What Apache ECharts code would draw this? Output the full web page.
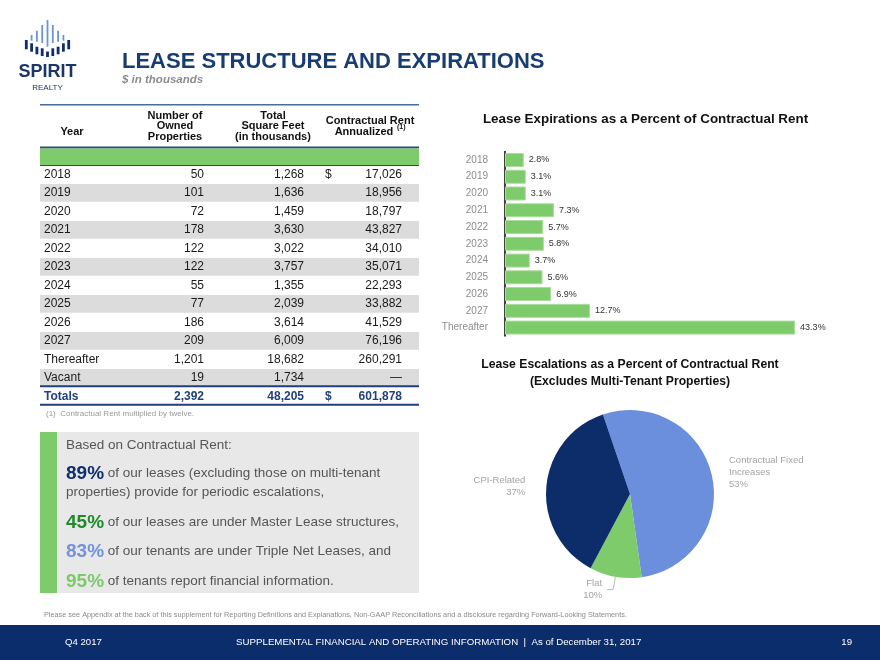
<!DOCTYPE html>
<html><head><meta charset="utf-8">
<script src="https://cdn.jsdelivr.net/npm/echarts/dist/echarts.min.js"></script>
<style>html,body{margin:0;padding:0;background:#fff}#c{width:880px;height:660px}</style>
</head><body><div id="c"></div>
<script>
// ---------------- DATA ----------------
const tableYears = ['2018','2019','2020','2021','2022','2023','2024','2025','2026','2027','Thereafter','Vacant'];
const ownedProperties = [50,101,72,178,122,122,55,77,186,209,1201,19];
const squareFeet = [1268,1636,1459,3630,3022,3757,1355,2039,3614,6009,18682,1734];
const contractualRent = [17026,18956,18797,43827,34010,35071,22293,33882,41529,76196,260291,null];
const totalsRow = ['Totals',2392,48205,601878];
const tableHeaders = [['Year'],['Number of','Owned','Properties'],['Total','Square Feet','(in thousands)'],['Contractual Rent','Annualized']];

const expirationCategories = ['2018','2019','2020','2021','2022','2023','2024','2025','2026','2027','Thereafter'];
const expirationPercent = [2.8,3.1,3.1,7.3,5.7,5.8,3.7,5.6,6.9,12.7,43.3];

const escalationNames = ['Contractual Fixed\nIncreases','Flat','CPI-Related'];
const escalationPercent = [53,10,37];

const highlightNumbers = ['89%','45%','83%','95%'];
const highlightTexts = [' of our leases (excluding those on multi-tenant',' of our leases are under Master Lease structures,',' of our tenants are under Triple Net Leases, and',' of tenants report financial information.'];

// ---------------- STYLE ----------------
const FF = '"Liberation Sans", Arial, sans-serif';
const NAVY = '#0f2d6b';
const GREEN = '#7dcb6a';
const fmt = v => v === null ? '—' : v.toLocaleString('en-US');

const g = [];
function T(x, y, text, o) {
  g.push({type:'text', x:x, y:y, silent:true,
    style:Object.assign({text:text, fill:'#1a1a1a', fontSize:12, fontFamily:FF, align:'left', verticalAlign:'middle'}, o || {})});
}
function R(x, y, w, h, fill) { g.push({type:'rect', silent:true, shape:{x:x,y:y,width:w,height:h}, style:{fill:fill}}); }
function L(x1, y1, x2, y2, stroke, lw) { g.push({type:'line', silent:true, shape:{x1:x1,y1:y1,x2:x2,y2:y2}, style:{stroke:stroke, lineWidth:lw}}); }

// ---- logo ----
const LC = 47.5, LS = 5.3;
const lightTop = [20, 25, 30.7, 35], lightBot = [46.7, 43, 41.7, 40.7];
for (let k = -3; k <= 3; k++) {
  const a = Math.abs(k);
  R(LC + k*LS - 0.9, lightTop[a], 1.8, lightBot[a] - lightTop[a], '#6d95d6');
}
const darkTop = [51.5, 48.3, 46.7, 43.3, 40], darkBot = [57, 56, 54.3, 51.7, 49.3];
for (let k = -4; k <= 4; k++) {
  const a = Math.abs(k);
  R(LC + k*LS - 1.4, darkTop[a], 2.8, darkBot[a] - darkTop[a], NAVY);
}
T(LC, 72.5, 'SPIRIT', {fontSize:18, fontWeight:'bold', fill:'#1a3668', align:'center'});
T(LC, 88, 'REALTY', {fontSize:8, fill:'#1a3668', align:'center'});

// ---- title ----
T(122, 61.5, 'LEASE STRUCTURE AND EXPIRATIONS', {fontSize:22, fontWeight:'bold', fill:'#173d73'});
T(122, 79.5, '$ in thousands', {fontSize:11.5, fontWeight:'bold', fontStyle:'italic', fill:'#8c8c8c'});

// ---- table ----
const TL = 40, TR = 419, ROW0 = 174.3, RH = 18.5;
const colX = [44, 204, 304, 402];
L(TL, 104.7, TR, 104.7, '#4b6b9b', 1.5);
const hdrCX = [72, 175, 273, 370];
const hdrY = {1:[115.5,126.3,137], 3:[120.7,131.7]};
T(hdrCX[0], 131.7, tableHeaders[0][0], {fontSize:11, fontWeight:'bold', fill:'#111', align:'center'});
[1,2].forEach(c => tableHeaders[c].forEach((s,j) => T(hdrCX[c], hdrY[1][j], s, {fontSize:11, fontWeight:'bold', fill:'#111', align:'center'})));
tableHeaders[3].forEach((s,j) => T(j === 1 ? 364 : hdrCX[3], hdrY[3][j], s, {fontSize:11, fontWeight:'bold', fill:'#111', align:'center'}));
T(397, 127.5, '(1)', {fontSize:7, fontWeight:'bold', fill:'#111'});
L(TL, 147.5, TR, 147.5, '#2b4a80', 2);
R(TL, 148.5, TR - TL, 16.5, GREEN);
L(TL, 165.5, TR, 165.5, '#2b4a80', 1);

tableYears.forEach((yr, i) => {
  const cy = ROW0 + i * RH;
  if (i % 2 === 1) R(TL, cy - 8.9, TR - TL, 17.8, '#dcdcdc');
  T(colX[0], cy, yr, {fontSize:12});
  T(colX[1], cy, fmt(ownedProperties[i]), {fontSize:12, align:'right'});
  T(colX[2], cy, fmt(squareFeet[i]), {fontSize:12, align:'right'});
  if (i === 0) T(325, cy, '$', {fontSize:12});
  T(colX[3], cy, fmt(contractualRent[i]), {fontSize:12, align:'right'});
});
const ty = ROW0 + tableYears.length * RH;
L(TL, ty - 10, TR, ty - 10, '#1f3f7f', 2);
L(TL, ty + 8.5, TR, ty + 8.5, '#1f3f7f', 2);
const tot = {fontSize:12, fontWeight:'bold', fill:'#1f3f7f'};
T(colX[0], ty, totalsRow[0], tot);
T(colX[1], ty, fmt(totalsRow[1]), Object.assign({align:'right'}, tot));
T(colX[2], ty, fmt(totalsRow[2]), Object.assign({align:'right'}, tot));
T(325, ty, '$', tot);
T(colX[3], ty, fmt(totalsRow[3]), Object.assign({align:'right'}, tot));
T(46, 414, '(1)  Contractual Rent multiplied by twelve.', {fontSize:8, fill:'#999'});

// ---- highlight box ----
R(40, 432, 379, 161, '#e8e8e8');
R(40, 432, 17, 161, GREEN);
T(66, 445, 'Based on Contractual Rent:', {fontSize:13.5, fill:'#555'});
const hlColors = ['#0f2f6e', '#1f8a2a', '#6f93dc', '#7cc96b'];
const hlY = [473.3, 522.7, 551.7, 581.7];
highlightNumbers.forEach((n, i) => {
  g.push({type:'text', x:66, y:hlY[i], silent:true, style:{
    text:'{n|' + n + '}{t|' + highlightTexts[i] + '}', verticalAlign:'middle', align:'left',
    rich:{n:{fontSize:19, fontWeight:'bold', fill:hlColors[i], fontFamily:FF},
          t:{fontSize:13.5, fill:'#555', fontFamily:FF}}}});
});
T(66, 492.7, 'properties) provide for periodic escalations,', {fontSize:13.5, fill:'#555'});

// ---- chart titles ----
T(645.5, 119, 'Lease Expirations as a Percent of Contractual Rent', {fontSize:13.4, fontWeight:'bold', fill:'#111', align:'center'});
T(630, 365, 'Lease Escalations as a Percent of Contractual Rent', {fontSize:12.2, fontWeight:'bold', fill:'#111', align:'center'});
T(630, 381.5, '(Excludes Multi-Tenant Properties)', {fontSize:12.2, fontWeight:'bold', fill:'#111', align:'center'});

// ---- footer ----
T(44, 615, 'Please see Appendix at the back of this supplement for Reporting Definitions and Explanations, Non-GAAP Reconciliations and a disclosure regarding Forward-Looking Statements.', {fontSize:7.3, fill:'#8a8a8a'});
R(0, 625, 880, 35, '#0c2d6b');
T(65, 642.7, 'Q4 2017', {fontSize:9.6, fill:'#fff'});
T(438.7, 642.3, 'SUPPLEMENTAL FINANCIAL AND OPERATING INFORMATION  |  As of December 31, 2017', {fontSize:9.7, fill:'#fff', align:'center'});
T(846.7, 642.7, '19', {fontSize:9.6, fill:'#fff', align:'center'});

// ---------------- CHART ----------------
const pieLines = [{show:false, length:8, length2:4.5}, {show:true, length:13, length2:6}, {show:false, length:10, length2:6}];
const chart = echarts.init(document.getElementById('c'), null, {renderer:'canvas'});
chart.setOption({
  animation:false,
  backgroundColor:'#fff',
  textStyle:{fontFamily:FF},
  grid:{left:505, top:151.6, width:335, height:184.4},
  xAxis:{type:'value', min:0, max:50, show:false},
  yAxis:{type:'category', data:expirationCategories, inverse:true,
    axisLine:{lineStyle:{color:'#000', width:1.5}},
    axisTick:{alignWithLabel:true, length:6, lineStyle:{color:'#999'}},
    axisLabel:{margin:17, color:'#8c8c8c', fontSize:10, fontFamily:FF},
    splitLine:{show:false}},
  graphic:{elements:g},
  series:[
    {type:'bar', data:expirationPercent, barWidth:14,
     itemStyle:{color:GREEN, borderColor:'#a9dd9c', borderWidth:1},
     label:{show:true, position:'right', distance:5, formatter:'{c}%', fontSize:9, color:'#333', fontFamily:FF}},
    {type:'pie', center:[630, 494], radius:84, startAngle:108.8, clockwise:true,
     avoidLabelOverlap:false,
     data:escalationNames.map((n, i) => ({name:n, value:escalationPercent[i], labelLine:pieLines[i]})),
     color:['#6b8fdc', GREEN, '#0c2d69'],
     label:{formatter:'{b}\n{c}%', fontSize:9.5, lineHeight:12, color:'#a3a3a3', fontFamily:FF},
     labelLine:{lineStyle:{color:'#bbb', width:1}},
     emphasis:{disabled:true}}
  ]
});
</script></body></html>
